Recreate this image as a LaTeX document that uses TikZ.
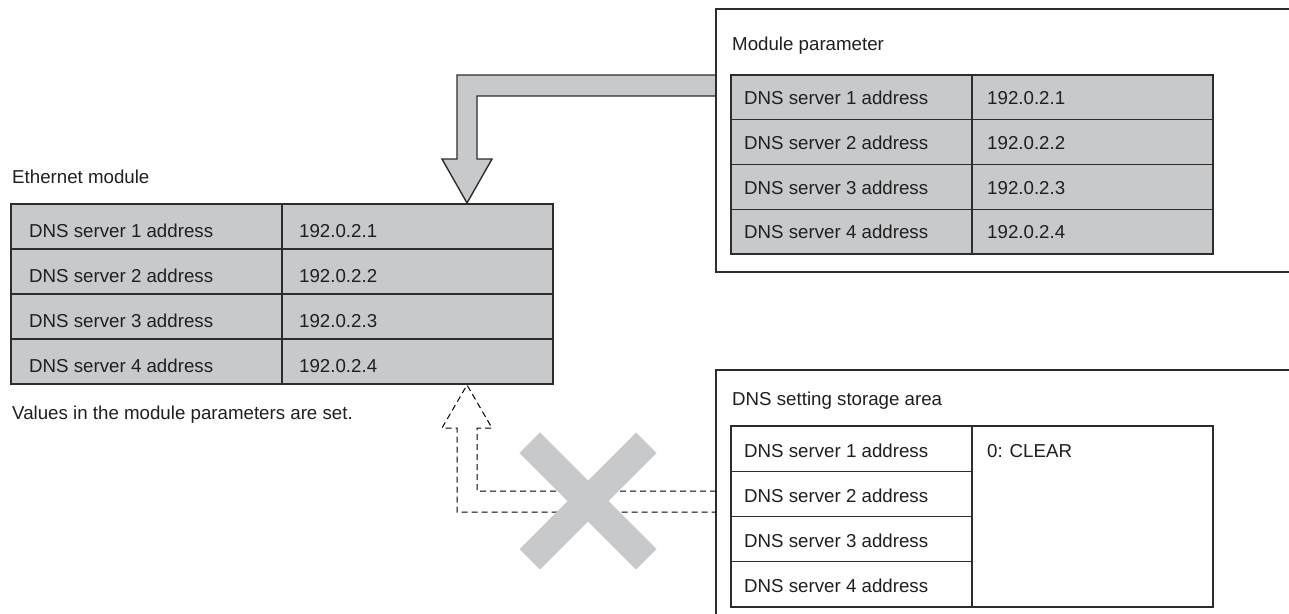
\documentclass[tikz,border=0pt]{standalone}
\usepackage{fontspec}
\setmainfont{Liberation Sans}
\definecolor{cellgray}{RGB}{200,201,203}
\definecolor{linec}{RGB}{45,45,45}
\tikzset{
  cell/.style={draw=linec, line width=1.4pt, fill=cellgray, anchor=north west, inner sep=0pt, outer sep=0pt},
  wcell/.style={cell, fill=white},
  lbl/.style={anchor=base west, inner sep=0pt, font=\fontsize{18.7}{22}\selectfont, text=black!88},
  frameline/.style={draw=linec, line width=1.4pt},
  bigarrow/.style={draw=linec, line width=1.4pt, line join=miter},
  dasharrow/.style={draw=black, line width=1pt, dash pattern=on 6pt off 4pt},
  crossbar/.style={fill=cellgray},
}
\begin{document}
\begin{tikzpicture}[x=1pt,y=-1pt]
\useasboundingbox (0,0) rectangle (1289,613);

% ---------- big grey arrow (module parameter -> ethernet module)
\coordinate (ga1) at (716,75);
\coordinate (ga2) at (457,75);
\coordinate (ga3) at (457,159);
\coordinate (ga4) at (442,159);
\coordinate (gtip) at (467,203);
\coordinate (ga6) at (492,159);
\coordinate (ga7) at (477,159);
\coordinate (ga8) at (477,96);
\coordinate (ga9) at (716,96);
\fill[cellgray] (ga1) -- (ga2) -- (ga3) -- (ga4) -- (gtip) -- (ga6) -- (ga7) -- (ga8) -- (ga9) -- cycle;
\draw[bigarrow] (ga1) -- (ga2) -- (ga3) -- (ga4) -- (gtip) -- (ga6) -- (ga7) -- (ga8) -- (ga9);

% ---------- Ethernet module table
\node[lbl] (ethtitle) at (12,183) {Ethernet module};
\foreach \i in {1,2,3,4}{
  \node[cell, minimum width=271pt, minimum height=45pt] (ek\i) at (11,{204+45*(\i-1)}) {};
  \node[cell, minimum width=271pt, minimum height=45pt] (ev\i) at (282,{204+45*(\i-1)}) {};
  \node[lbl] (ekt\i) at (29,{204+45*(\i-1)+33}) {DNS server \i\ address};
  \node[lbl] (evt\i) at (299,{204+45*(\i-1)+33}) {192.0.2.\i};
}
\node[lbl] (ethnote) at (12,419) {Values in the module parameters are set.};

% ---------- Module parameter frame and table
\draw[frameline] (1292,9) -- (716,9) -- (716,272) -- (1292,272);
\node[lbl] (mptitle) at (732,50) {Module parameter};
\foreach \i in {1,2,3,4}{
  \node[cell, minimum width=241pt, minimum height=44.75pt] (mk\i) at (731,{75+44.75*(\i-1)}) {};
  \node[cell, minimum width=241pt, minimum height=44.75pt] (mv\i) at (972,{75+44.75*(\i-1)}) {};
  \node[lbl] (mkt\i) at (744,{75+44.75*(\i-1)+29.5}) {DNS server \i\ address};
  \node[lbl] (mvt\i) at (987,{75+44.75*(\i-1)+29.5}) {192.0.2.\i};
}

% ---------- DNS setting storage area frame and table
\draw[frameline] (1292,370) -- (716,370) -- (716,616);
\node[lbl] (dstitle) at (732,405) {DNS setting storage area};
\foreach \i in {1,2,3,4}{
  \node[wcell, minimum width=241pt, minimum height=45.25pt] (dk\i) at (731,{426+45.25*(\i-1)}) {};
  \node[lbl] (dkt\i) at (744,{426+45.25*(\i-1)+31}) {DNS server \i\ address};
}
\node[wcell, minimum width=241pt, minimum height=181pt] (dv) at (972,426) {};
\node[lbl] (dvt) at (987,457) {0: CLEAR};

% ---------- dashed (blocked) arrow
\coordinate (da1) at (716,491);
\coordinate (da2) at (477,491);
\coordinate (da3) at (477,428);
\coordinate (da4) at (492,428);
\coordinate (dtip) at (467,385);
\coordinate (da6) at (442,428);
\coordinate (da7) at (457,428);
\coordinate (da8) at (457,512);
\coordinate (da9) at (716,512);
\draw[dasharrow] (da1) -- (da2) -- (da3) -- (da4) -- (dtip) -- (da6) -- (da7) -- (da8) -- (da9);

% ---------- grey cross
\coordinate (xc) at (588,501);
\fill[crossbar, rotate around={45:(xc)}] (505.5,486.5) rectangle (670.5,515.5);
\fill[crossbar, rotate around={-45:(xc)}] (505.5,486.5) rectangle (670.5,515.5);
\end{tikzpicture}
\end{document}
